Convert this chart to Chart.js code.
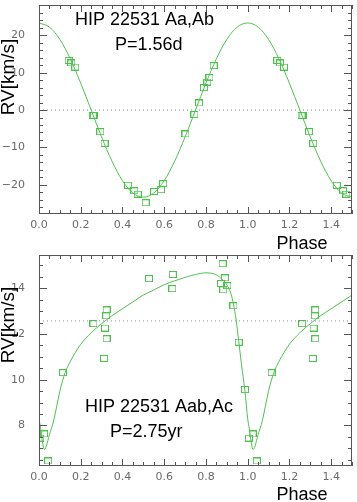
<!DOCTYPE html>
<html>
<head>
<meta charset="utf-8">
<script src="https://cdn.jsdelivr.net/npm/chart.js@4.4.1/dist/chart.umd.min.js"></script>
<style>
  body { margin: 0; background: #fff; }
  canvas { position: absolute; left: 0; }
</style>
</head>
<body>
<canvas id="rvTop" width="357" height="250" style="top:0"></canvas>
<canvas id="rvBot" width="357" height="252" style="top:250px"></canvas>
<script>
// --- HIP 22531 Aa,Ab  (P = 1.56 d) ---
var abPhase = [0.142, 0.155, 0.174, 0.258, 0.263, 0.294, 0.314, 0.427, 0.457, 0.473, 0.511,
               0.552, 0.584, 0.595, 0.702, 0.745, 0.767, 0.791, 0.807, 0.817, 0.837];
var abRV    = [13.3, 12.6, 11.5, -1.4, -1.5, -5.8, -8.9, -20.1, -21.6, -22.5, -24.8,
               -21.8, -21.3, -19.7, -6.4, -1.2, 1.9, 6.0, 7.5, 8.7, 11.9];
var abCurvePhase = [0, 0.05, 0.1, 0.15, 0.2, 0.25, 0.3, 0.35, 0.4, 0.45, 0.5, 0.55, 0.6, 0.65, 0.7, 0.75,
                    0.8, 0.85, 0.9, 0.95, 1.0, 1.05, 1.1, 1.15, 1.2, 1.25, 1.3, 1.35, 1.4, 1.45, 1.5];
var abCurveRV = [23.3, 22.2, 18.9, 13.7, 7.2, 0, -7.2, -13.7, -18.9, -22.2, -23.3, -22.2, -18.9, -13.7, -7.2, 0,
                 7.2, 13.7, 18.9, 22.2, 23.3, 22.2, 18.9, 13.7, 7.2, 0, -7.2, -13.7, -18.9, -22.2, -23.3];
var abGamma = 0;
var abYTicks = [-20, -10, 0, 10, 20];

// --- HIP 22531 Aab,Ac  (P = 2.75 yr) ---
var acPhase = [0.006, 0.024, 0.044, 0.115, 0.261, 0.324, 0.322, 0.316, 0.324, 0.312, 0.527,
               0.641, 0.639, 0.880, 0.891, 0.872, 0.903, 0.883, 0.932, 0.957, 0.987];
var acRV    = [7.45, 7.63, 6.45, 10.31, 12.45, 13.05, 12.79, 12.26, 11.79, 10.93, 14.42,
               14.6, 13.98, 15.07, 14.45, 14.2, 14.11, 13.93, 13.23, 11.64, 9.57];
var acCurvePhase = [0, 0.01, 0.018, 0.026, 0.035, 0.05, 0.07, 0.1, 0.125, 0.15, 0.175, 0.2, 0.25, 0.3, 0.35, 0.4,
                    0.45, 0.5, 0.55, 0.6, 0.65, 0.7, 0.75, 0.8, 0.84, 0.87, 0.9, 0.92, 0.932, 0.945, 0.957,
                    0.97, 0.987, 1.0, 1.01, 1.018, 1.026, 1.035, 1.05, 1.07, 1.1, 1.125, 1.15, 1.175, 1.2,
                    1.25, 1.3, 1.35, 1.4, 1.45, 1.5];
var acCurveRV = [8.3, 7.75, 7.2, 6.95, 7.1, 7.6, 8.2, 9.5, 10.3, 10.8, 11.2, 11.55, 12.05, 12.45, 12.8, 13.1,
                 13.4, 13.7, 13.92, 14.15, 14.32, 14.47, 14.6, 14.67, 14.62, 14.45, 14.15, 13.75, 13.3, 12.6, 11.7,
                 10.7, 9.5, 8.3, 7.75, 7.2, 6.95, 7.1, 7.6, 8.2, 9.5, 10.3, 10.8, 11.2, 11.55,
                 12.05, 12.45, 12.8, 13.1, 13.4, 13.7];
var acGamma = 12.57;
var acYTicks = [8, 10, 12, 14];

var phaseTicks = [0, 0.2, 0.4, 0.6, 0.8, 1.0, 1.2, 1.4];

var green = '#4cc24c';

// open square marker
var box = document.createElement('canvas');
box.width = 8; box.height = 7;
var bctx = box.getContext('2d');
bctx.strokeStyle = green;
bctx.lineWidth = 1;
bctx.strokeRect(0.5, 0.5, 7, 6);

function pts(xs, ys, wrap) {
  var out = [];
  for (var i = 0; i < xs.length; i++) {
    out.push({x: xs[i], y: ys[i]});
    if (wrap && xs[i] < 0.5) out.push({x: xs[i] + 1, y: ys[i]}); // phase repeated past 1
  }
  return out;
}

function noPad(s) {
  s.paddingTop = 0; s.paddingBottom = 0; s.paddingLeft = 0; s.paddingRight = 0;
}

// frame, inward ticks and labels
var decor = {
  id: 'decor',
  afterDatasetsDraw: function (chart, args, o) {
    var c = chart.ctx, a = chart.chartArea, xs = chart.scales.x, ys = chart.scales.y;
    c.save();
    c.strokeStyle = '#555';
    c.lineWidth = 1;
    c.strokeRect(a.left + 0.5, a.top + 0.5, a.right - a.left - 1, a.bottom - a.top - 1);
    c.beginPath();
    var v, p, len;
    for (v = 0; v <= 1.5001; v += 0.05) {
      p = Math.round(xs.getPixelForValue(v)) + 0.5;
      len = Math.abs(v / 0.2 - Math.round(v / 0.2)) < 1e-6 ? 7 : 4;
      c.moveTo(p, a.bottom); c.lineTo(p, a.bottom - len);
      c.moveTo(p, a.top); c.lineTo(p, a.top + len);
    }
    for (v = Math.ceil(ys.min / o.minor) * o.minor; v <= ys.max; v += o.minor) {
      p = Math.round(ys.getPixelForValue(v)) + 0.5;
      len = Math.abs(v / o.major - Math.round(v / o.major)) < 1e-6 ? 8 : 4;
      c.moveTo(a.left, p); c.lineTo(a.left + len, p);
      c.moveTo(a.right, p); c.lineTo(a.right - len, p);
    }
    c.stroke();
    c.restore();
  },
  afterDraw: function (chart, args, o) {
    var c = chart.ctx;
    c.save();
    c.fillStyle = '#000';
    c.textBaseline = 'alphabetic';
    o.texts.forEach(function (t) {
      c.font = t.size + 'px "Liberation Sans", Arial, sans-serif';
      c.textAlign = t.align || 'left';
      c.fillText(t.s, t.x, t.y);
    });
    c.font = '19px "Liberation Sans", Arial, sans-serif';
    c.textAlign = 'center';
    c.textBaseline = 'middle';
    c.translate(9, o.ylabelY);
    c.rotate(-Math.PI / 2);
    c.fillText('RV[km/s]', 0, 0);
    c.restore();
  }
};

function panel(id, p) {
  return new Chart(document.getElementById(id), {
    type: 'scatter',
    data: {
      datasets: [
        {
          type: 'line',
          data: [{x: 0, y: p.gamma}, {x: 1.5, y: p.gamma}],
          borderColor: '#8a8a8a',
          borderWidth: 1,
          borderDash: [1, 3],
          pointRadius: 0
        },
        {
          type: 'line',
          data: pts(p.curveX, p.curveY, false),
          borderColor: green,
          borderWidth: 1,
          pointRadius: 0,
          cubicInterpolationMode: 'monotone'
        },
        {
          data: pts(p.x, p.y, true),
          pointStyle: box,
          borderColor: green,
          backgroundColor: 'rgba(0,0,0,0)'
        }
      ]
    },
    options: {
      responsive: false,
      animation: false,
      devicePixelRatio: 1,
      layout: { padding: { top: p.padTop, right: 1, left: 0, bottom: 0 } },
      plugins: {
        legend: { display: false },
        tooltip: { enabled: false },
        decor: { minor: p.minor, major: p.major, texts: p.texts, ylabelY: p.ylabelY }
      },
      scales: {
        x: {
          type: 'linear',
          min: 0, max: 1.5,
          grid: { display: false, drawTicks: false },
          border: { display: false },
          afterBuildTicks: function (s) { s.ticks = phaseTicks.map(function (v) { return {value: v}; }); },
          afterFit: function (s) { s.height = 36; noPad(s); },
          ticks: {
            padding: 5,
            color: '#6a6a6a',
            maxRotation: 0,
            autoSkip: false,
            font: { family: '"DejaVu Sans", sans-serif', size: 11 },
            callback: function (v) { return Number(v).toFixed(1); }
          }
        },
        y: {
          min: p.ymin, max: p.ymax,
          grid: { display: false, drawTicks: false },
          border: { display: false },
          afterBuildTicks: function (s) { s.ticks = p.yticks.map(function (v) { return {value: v}; }); },
          afterFit: function (s) { s.width = 39; noPad(s); },
          ticks: {
            padding: 14,
            color: '#6a6a6a',
            autoSkip: false,
            font: { family: '"DejaVu Sans", sans-serif', size: 11 },
            callback: function (v) { return v < 0 ? '\u2212' + (-v) : String(v); }
          }
        }
      }
    },
    plugins: [decor]
  });
}

panel('rvTop', {
  x: abPhase, y: abRV, curveX: abCurvePhase, curveY: abCurveRV, gamma: abGamma,
  ymin: -27.8, ymax: 28.1, yticks: abYTicks, minor: 2, major: 10, padTop: 0,
  ylabelY: 77,
  texts: [
    {s: 'HIP 22531 Aa,Ab', x: 75, y: 25, size: 18},
    {s: 'P=1.56d', x: 115, y: 50, size: 18},
    {s: 'Phase', x: 302, y: 249, size: 18, align: 'center'}
  ]
});

panel('rvBot', {
  x: acPhase, y: acRV, curveX: acCurvePhase, curveY: acCurveRV, gamma: acGamma,
  ymin: 6.23, ymax: 15.45, yticks: acYTicks, minor: 0.5, major: 2, padTop: 4,
  ylabelY: 75,
  texts: [
    {s: 'HIP 22531 Aab,Ac', x: 85, y: 162, size: 18},
    {s: 'P=2.75yr', x: 110, y: 187, size: 18},
    {s: 'Phase', x: 302, y: 250, size: 18, align: 'center'}
  ]
});
</script>
</body>
</html>
